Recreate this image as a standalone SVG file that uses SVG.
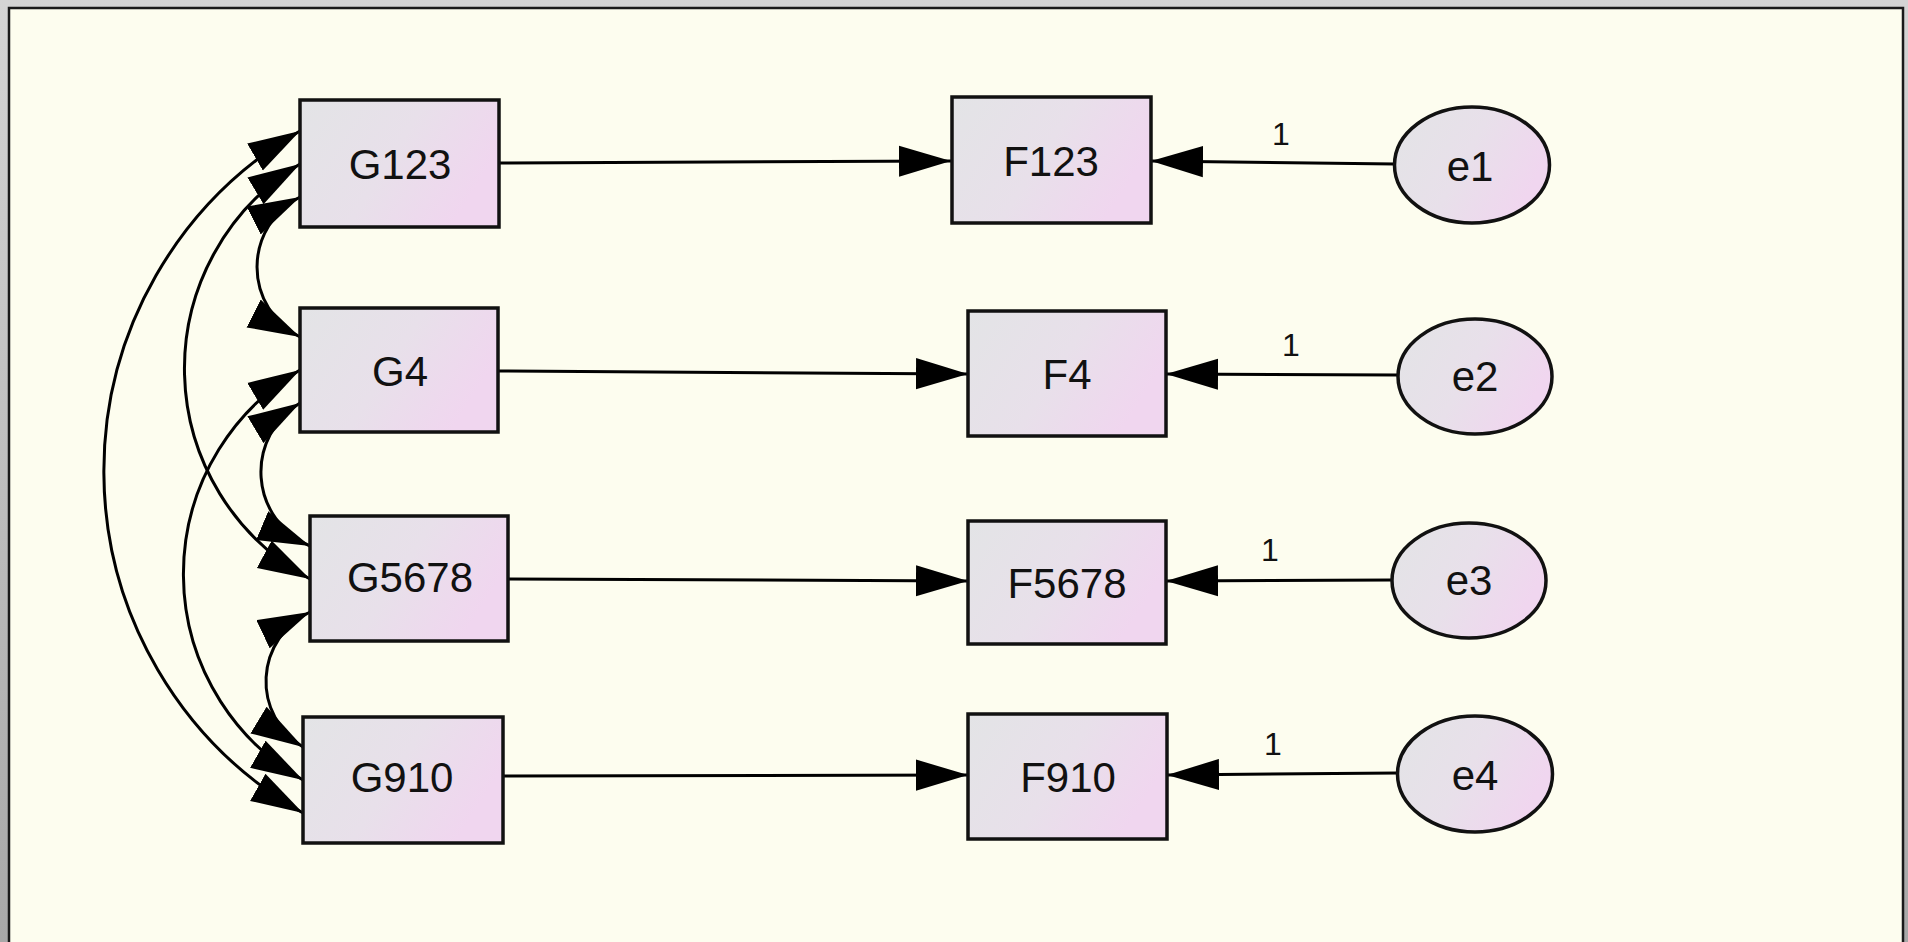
<svg xmlns="http://www.w3.org/2000/svg" width="1908" height="942" viewBox="0 0 1908 942">
<defs>
<linearGradient id="shade" x1="0" y1="0" x2="0" y2="1">
<stop offset="0" stop-color="#d4d4d4"/>
<stop offset="1" stop-color="#a8a8a8"/>
</linearGradient>
<linearGradient id="nodefill" x1="0" y1="0" x2="1" y2="0.4">
<stop offset="0" stop-color="#e3e4e6"/>
<stop offset="0.55" stop-color="#e8e0ea"/>
<stop offset="1" stop-color="#f0d6ef"/>
</linearGradient>
<marker id="ah" markerUnits="userSpaceOnUse" markerWidth="52" markerHeight="32" viewBox="0 0 50 30" refX="50" refY="15" orient="auto-start-reverse">
<path d="M0,0 L50,15 L0,30 z" fill="#000"/>
</marker>
</defs>
<style>
.node{fill:url(#nodefill);stroke:#111;stroke-width:3.5}
.lbl{font-family:"Liberation Sans",Arial,sans-serif;font-size:42px;fill:#111;text-anchor:middle}
.num{font-family:"Liberation Sans",Arial,sans-serif;font-size:32px;fill:#111;text-anchor:middle}
.conn path{fill:none;stroke:#000;stroke-width:3}
.one{marker-end:url(#ah)}
.two{marker-start:url(#ah);marker-end:url(#ah)}
</style>
<rect x="0" y="0" width="1908" height="942" fill="url(#shade)"/>
<rect x="9" y="8" width="1894" height="960" fill="#fdfdef" stroke="#1a1a1a" stroke-width="2.5"/>

<g id="connectors" class="conn">
<path class="one" d="M499,163 L951,161"/>
<path class="one" d="M1395,164 L1151,161"/>
<path class="one" d="M498,371 L968,374"/>
<path class="one" d="M1398,375 L1166,374"/>
<path class="one" d="M508,579 L968,581"/>
<path class="one" d="M1392,580 L1166,581"/>
<path class="one" d="M503,776 L968,775"/>
<path class="one" d="M1398,773 L1167,775"/>
<path class="two" d="M300,131 A393,393 0 0 0 303,813"/>
<path class="two" d="M300,164 A239,239 0 0 0 310,579"/>
<path class="two" d="M300,370 A237,237 0 0 0 303,780"/>
<path class="two" d="M300,197 A78.5,78.5 0 0 0 300,337"/>
<path class="two" d="M300,403 A80.4,80.4 0 0 0 310,546"/>
<path class="two" d="M310,612 A76.7,76.7 0 0 0 303,747"/>
</g>

<g id="labels">
<text class="num" x="1281" y="145">1</text>
<text class="num" x="1291" y="356">1</text>
<text class="num" x="1270" y="561">1</text>
<text class="num" x="1273" y="755">1</text>
</g>

<g id="G123"><rect class="node" x="300" y="100" width="199" height="127"/><text class="lbl" x="400" y="179">G123</text></g>
<g id="F123"><rect class="node" x="952" y="97" width="199" height="126"/><text class="lbl" x="1051" y="176">F123</text></g>
<g id="e1"><ellipse class="node" cx="1472" cy="165" rx="77.5" ry="58"/><text class="lbl" x="1470" y="181">e1</text></g>

<g id="G4"><rect class="node" x="300" y="308" width="198" height="124"/><text class="lbl" x="400" y="386">G4</text></g>
<g id="F4"><rect class="node" x="968" y="311" width="198" height="125"/><text class="lbl" x="1067" y="389">F4</text></g>
<g id="e2"><ellipse class="node" cx="1475" cy="376.5" rx="77" ry="57.5"/><text class="lbl" x="1475" y="391">e2</text></g>

<g id="G5678"><rect class="node" x="310" y="516" width="198" height="125"/><text class="lbl" x="410" y="592">G5678</text></g>
<g id="F5678"><rect class="node" x="968" y="521" width="198" height="123"/><text class="lbl" x="1067" y="598">F5678</text></g>
<g id="e3"><ellipse class="node" cx="1469" cy="580.5" rx="77" ry="57.5"/><text class="lbl" x="1469" y="595">e3</text></g>

<g id="G910"><rect class="node" x="303" y="717" width="200" height="126"/><text class="lbl" x="402" y="792">G910</text></g>
<g id="F910"><rect class="node" x="968" y="714" width="199" height="125"/><text class="lbl" x="1068" y="792">F910</text></g>
<g id="e4"><ellipse class="node" cx="1475" cy="774" rx="77.5" ry="58"/><text class="lbl" x="1475" y="790">e4</text></g>
</svg>
